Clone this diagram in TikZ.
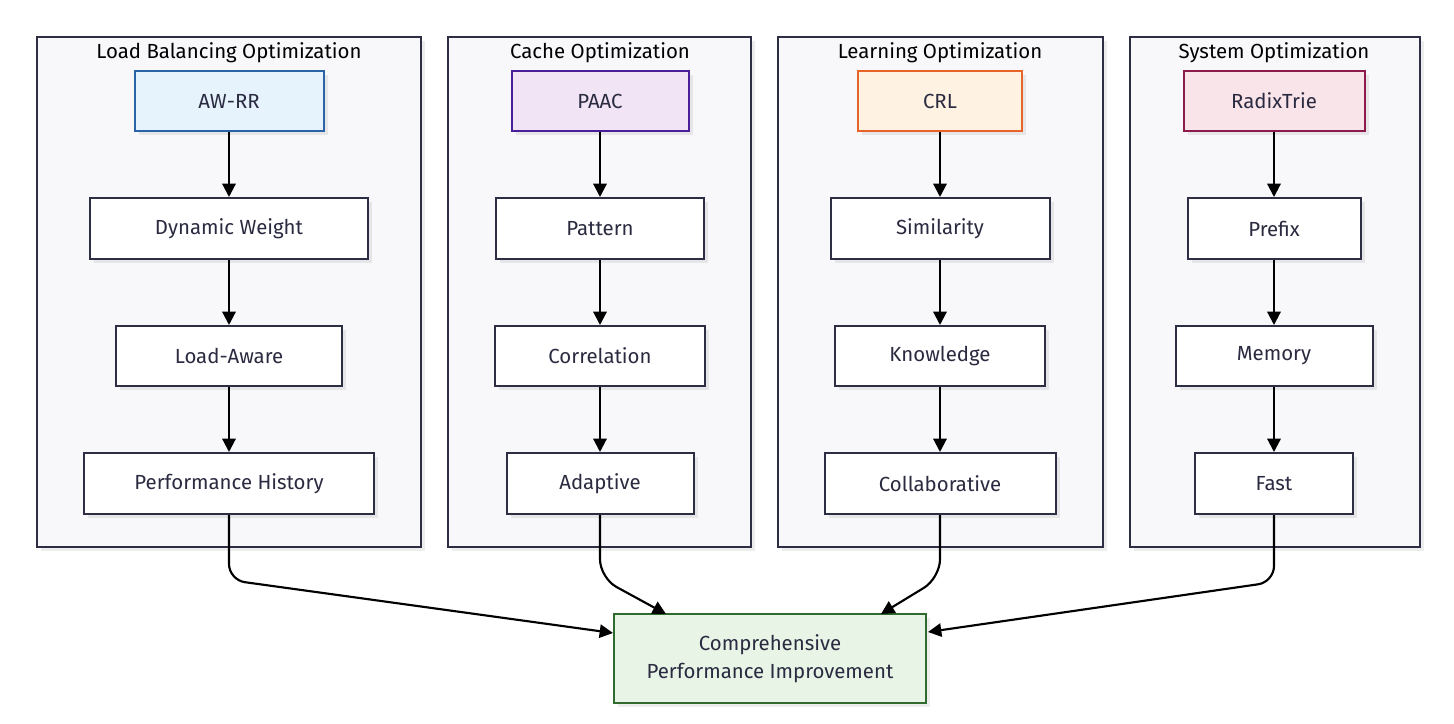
\documentclass[tikz,border=0pt]{standalone}
\usepackage{fontspec}
\setmainfont{Fira Sans}
\usetikzlibrary{arrows.meta,shadows}
\definecolor{txt}{HTML}{2A2A40}
\definecolor{edge}{HTML}{2D2D44}
\definecolor{clfill}{HTML}{F8F8FB}
\definecolor{bluef}{HTML}{E6F3FD}\definecolor{blued}{HTML}{2A64A6}
\definecolor{purf}{HTML}{F1E5F5}\definecolor{purd}{HTML}{4A1F99}
\definecolor{oraf}{HTML}{FEF3E2}\definecolor{orad}{HTML}{E8632A}
\definecolor{pinf}{HTML}{F9E4EA}\definecolor{pind}{HTML}{8C1A4A}
\definecolor{grnf}{HTML}{E8F4E6}\definecolor{grnd}{HTML}{2F6A2E}
\tikzset{
  shad/.style={drop shadow={shadow xshift=3pt,shadow yshift=-3pt,fill=black,opacity=0.07}},
  cluster/.style={draw=edge,fill=clfill,line width=1.5pt,shad},
  box/.style={draw=edge,fill=white,line width=1.5pt,shad,text=txt,font=\fontsize{15.3}{18}\selectfont},
  ctitle/.style={text=black,font=\fontsize{15.3}{18}\selectfont},
  arr/.style={line width=1.6pt,-{Triangle[length=10pt,width=10pt]}},
}
\begin{document}
\begin{tikzpicture}[x=0.75pt,y=-0.75pt]
\useasboundingbox (0,0) rectangle (1454,724);
% clusters
\path[cluster] (37,37) rectangle (421,547);
\path[cluster] (448,37) rectangle (751,547);
\path[cluster] (778,37) rectangle (1103,547);
\path[cluster] (1130,37) rectangle (1420,547);
\node[ctitle] (t1) at (229,52.5) {Load Balancing Optimization};
\node[ctitle] (t2) at (600,52.5) {Cache Optimization};
\node[ctitle] (t3) at (940,52.5) {Learning Optimization};
\node[ctitle] (t4) at (1274,52.5) {System Optimization};
% column 1
\node[box,fill=bluef,draw=blued,minimum width=189*0.75pt,minimum height=60*0.75pt] (awrr) at (229,101) {AW-RR};
\node[box,minimum width=278*0.75pt,minimum height=61*0.75pt] (dw) at (229,228.5) {Dynamic Weight};
\node[box,minimum width=226*0.75pt,minimum height=60*0.75pt] (la) at (229,356) {Load-Aware};
\node[box,minimum width=290*0.75pt,minimum height=61*0.75pt] (ph) at (229,483.5) {Performance History};
% column 2
\node[box,fill=purf,draw=purd,minimum width=177*0.75pt,minimum height=60*0.75pt] (paac) at (600,101) {PAAC};
\node[box,minimum width=208*0.75pt,minimum height=61*0.75pt] (pat) at (600,228.5) {Pattern};
\node[box,minimum width=210*0.75pt,minimum height=60*0.75pt] (cor) at (600,356) {Correlation};
\node[box,minimum width=187*0.75pt,minimum height=61*0.75pt] (ada) at (600,483.5) {Adaptive};
% column 3
\node[box,fill=oraf,draw=orad,minimum width=164*0.75pt,minimum height=60*0.75pt] (crl) at (940,101) {CRL};
\node[box,minimum width=219*0.75pt,minimum height=61*0.75pt] (sim) at (940,228.5) {Similarity};
\node[box,minimum width=210*0.75pt,minimum height=60*0.75pt] (kno) at (940,356) {Knowledge};
\node[box,minimum width=231*0.75pt,minimum height=61*0.75pt] (col) at (940,483.5) {Collaborative};
% column 4
\node[box,fill=pinf,draw=pind,minimum width=181*0.75pt,minimum height=60*0.75pt] (rt) at (1274,101) {RadixTrie};
\node[box,minimum width=173*0.75pt,minimum height=61*0.75pt] (pre) at (1274,228.5) {Prefix};
\node[box,minimum width=197*0.75pt,minimum height=60*0.75pt] (mem) at (1274,356) {Memory};
\node[box,minimum width=158*0.75pt,minimum height=61*0.75pt] (fast) at (1274,483.5) {Fast};
% target
\node[box,fill=grnf,draw=grnd,minimum width=312*0.75pt,minimum height=89*0.75pt,align=center,font=\fontsize{15.3}{21}\selectfont] (cpi) at (770,658.5) {Comprehensive\\Performance Improvement};
% vertical edges
\foreach \a/\b in {awrr/dw,dw/la,la/ph,paac/pat,pat/cor,cor/ada,crl/sim,sim/kno,kno/col,rt/pre,pre/mem,mem/fast}
  \draw[arr] (\a) -- (\b);
% bends
\coordinate (b1) at (229,580);
\coordinate (b2) at (600,578);
\coordinate (b3) at (940,578);
\coordinate (b4) at (1274,582);
\coordinate (e1) at (613,633);
\coordinate (e2) at (666,614);
\coordinate (e3) at (881,614);
\coordinate (e4) at (928,632);
\draw[arr,rounded corners=12pt] (ph.south) -- (b1) -- (e1);
\draw[arr,rounded corners=14pt] (ada.south) -- (b2) -- (e2);
\draw[arr,rounded corners=14pt] (col.south) -- (b3) -- (e3);
\draw[arr,rounded corners=12pt] (fast.south) -- (b4) -- (e4);
\end{tikzpicture}
\end{document}
